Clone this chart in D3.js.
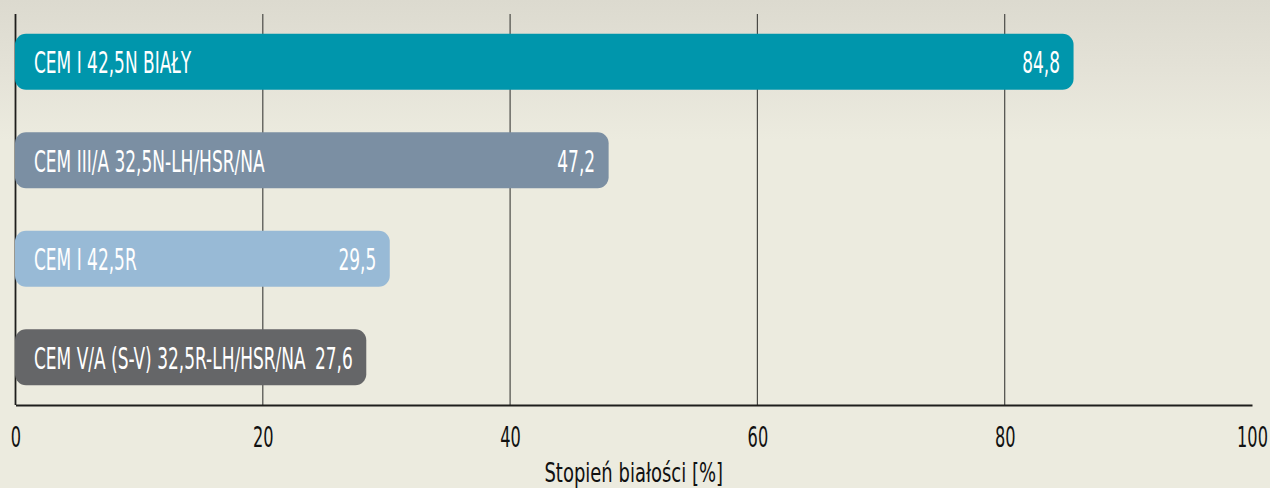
<!DOCTYPE html>
<html>
<head>
<meta charset="utf-8">
<script src="https://cdn.jsdelivr.net/npm/d3@7"></script>
<style>
  body { margin: 0; background: #ecebdf; }
  svg { display: block; }
</style>
</head>
<body>
<div id="chart"></div>
<script>
const categories = [
  "CEM I 42,5N BIAŁY",
  "CEM III/A 32,5N-LH/HSR/NA",
  "CEM I 42,5R",
  "CEM V/A (S-V) 32,5R-LH/HSR/NA"
];
const values = [84.8, 47.2, 29.5, 27.6];
const barColors = ["#0096ac", "#7b8fa3", "#98bad6", "#656668"];
const ticks = [0, 20, 40, 60, 80, 100];
const axisTitle = "Stopień białości [%]";

const W = 1270, H = 488;
const fontFamily = "'DejaVu Sans Condensed', 'DejaVu Sans', sans-serif";

const svg = d3.select("#chart").append("svg")
  .attr("width", W)
  .attr("height", H);

// background, lighter washed-out band at the top
const defs = svg.append("defs");
const bg = defs.append("linearGradient").attr("id", "bg")
  .attr("x1", 0).attr("y1", 0).attr("x2", 0).attr("y2", 1);
bg.append("stop").attr("offset", "0%").attr("stop-color", "#dcdacf");
bg.append("stop").attr("offset", "50%").attr("stop-color", "#e4e2d7");
bg.append("stop").attr("offset", "100%").attr("stop-color", "#ecebdf");

svg.append("rect").attr("width", W).attr("height", H).attr("fill", "#ecebdf");
svg.append("rect").attr("width", W).attr("height", 140).attr("fill", "url(#bg)");

const margin = { left: 15.5, right: 18, top: 14, bottom: 83 };
const x = d3.scaleLinear()
  .domain([0, 100])
  .range([margin.left, W - margin.right]);

const y = d3.scaleBand()
  .domain(categories)
  .range([margin.top, H - margin.bottom])
  .paddingInner(0.43)
  .paddingOuter(0.2);

// vertical gridlines
svg.append("g")
  .selectAll("line")
  .data(ticks.slice(1, -1))
  .join("line")
  .attr("x1", d => x(d)).attr("x2", d => x(d))
  .attr("y1", margin.top).attr("y2", H - margin.bottom)
  .attr("stroke", "#4a4a46")
  .attr("stroke-width", 1.2);

// left axis line
svg.append("line")
  .attr("x1", x(0)).attr("x2", x(0))
  .attr("y1", margin.top).attr("y2", H - margin.bottom)
  .attr("stroke", "#1e1e1c")
  .attr("stroke-width", 1.8);

// bars
const barPad = 10;
const squeeze = 0.63; // condensed look
const bars = svg.append("g")
  .selectAll("g")
  .data(categories)
  .join("g");

bars.append("rect")
  .attr("x", x(0) - 0.5)
  .attr("y", d => y(d))
  .attr("width", (d, i) => x(values[i]) - x(0) + barPad)
  .attr("height", y.bandwidth())
  .attr("rx", 11).attr("ry", 11)
  .attr("fill", (d, i) => barColors[i]);

bars.append("text")
  .attr("transform", d => `translate(34,${y(d) + y.bandwidth() / 2 + 11.5}) scale(${squeeze},1)`)
  .attr("fill", "#fff")
  .style("font-family", fontFamily)
  .style("font-size", "30px")
  .text(d => d);

bars.append("text")
  .attr("transform", (d, i) => `translate(${x(values[i]) + barPad - 14},${y(d) + y.bandwidth() / 2 + 11.5}) scale(${squeeze},1)`)
  .attr("text-anchor", "end")
  .attr("fill", "#fff")
  .style("font-family", fontFamily)
  .style("font-size", "30px")
  .text((d, i) => d3.format(".1f")(values[i]).replace(".", ","));

// bottom axis
const xAxis = d3.axisBottom(x)
  .tickValues(ticks)
  .tickSize(0)
  .tickFormat(d3.format("d"));

const gx = svg.append("g")
  .attr("transform", `translate(0,${H - margin.bottom})`)
  .call(xAxis);
gx.select(".domain")
  .attr("stroke", "#1e1e1c")
  .attr("stroke-width", 2);
gx.selectAll("text")
  .attr("y", 0).attr("dy", 0)
  .attr("transform", "translate(0,42) scale(0.62,1)")
  .attr("fill", "#111")
  .style("font-family", fontFamily)
  .style("font-size", "29px");

svg.append("text")
  .attr("transform", `translate(${x(50)},482) scale(0.74,1)`)
  .attr("text-anchor", "middle")
  .attr("fill", "#111")
  .style("font-family", fontFamily)
  .style("font-size", "27px")
  .text(axisTitle);
</script>
</body>
</html>
